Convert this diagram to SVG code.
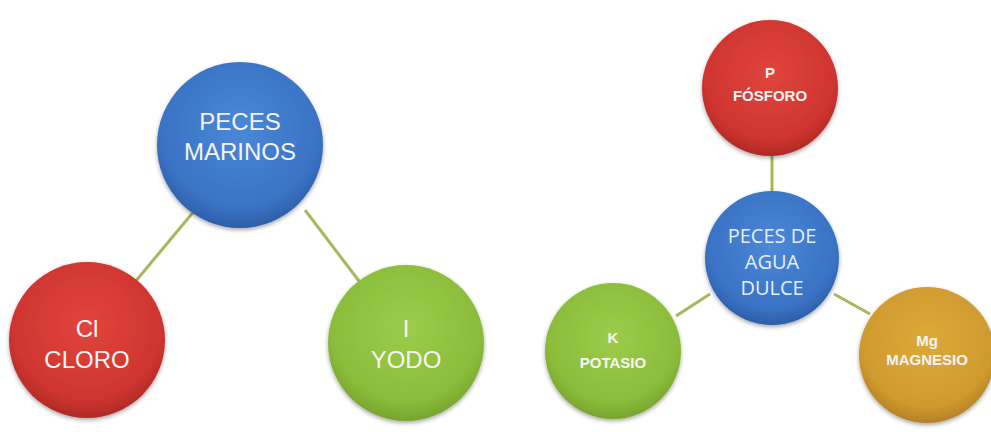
<svg xmlns="http://www.w3.org/2000/svg" width="991" height="432" viewBox="0 0 991 432">
<defs>
<radialGradient id="gBlue" cx="50%" cy="40%" r="60%"><stop offset="0" stop-color="#4a88d8"/><stop offset="0.8" stop-color="#3a72c4"/><stop offset="1" stop-color="#2d5ea8"/></radialGradient>
<radialGradient id="gRed" cx="50%" cy="40%" r="60%"><stop offset="0" stop-color="#e0453d"/><stop offset="0.8" stop-color="#cf3430"/><stop offset="1" stop-color="#b02a26"/></radialGradient>
<radialGradient id="gGreen" cx="50%" cy="40%" r="60%"><stop offset="0" stop-color="#9ccc4a"/><stop offset="0.8" stop-color="#8abc3a"/><stop offset="1" stop-color="#76a42e"/></radialGradient>
<radialGradient id="gOrange" cx="50%" cy="40%" r="60%"><stop offset="0" stop-color="#dcaa3a"/><stop offset="0.8" stop-color="#cf9a2e"/><stop offset="1" stop-color="#b38226"/></radialGradient>
<filter id="sh" x="-20%" y="-20%" width="140%" height="140%"><feGaussianBlur in="SourceAlpha" stdDeviation="2"/><feOffset dy="2"/><feComponentTransfer><feFuncA type="linear" slope="0.35"/></feComponentTransfer><feMerge><feMergeNode/><feMergeNode in="SourceGraphic"/></feMerge></filter>
</defs>
<style>
.c{filter:url(#sh)}
.t1{font-family:"Liberation Sans",Arial,sans-serif;font-size:24px;fill:#f4f4f4;text-anchor:middle}
.t2{font-family:"Liberation Sans",Arial,sans-serif;font-size:15px;font-weight:bold;fill:#f4f4f4;text-anchor:middle}
.t3{font-family:"Open Sans","Noto Sans",sans-serif;font-size:20px;fill:#e6eef8;text-anchor:middle}
.ln{stroke:#a6b85a;stroke-width:3;fill:none}
</style>
<rect width="991" height="432" fill="#ffffff"/>
<g id="connectors">
<line class="ln" x1="195" y1="210" x2="135" y2="282"/>
<line class="ln" x1="305" y1="210" x2="362" y2="285"/>
<line class="ln" x1="772" y1="155" x2="772" y2="193"/>
<line class="ln" x1="710" y1="294" x2="676" y2="316"/>
<line class="ln" x1="834" y1="294" x2="870" y2="314"/>
</g>
<g id="n-marinos"><circle class="c" cx="240" cy="145" r="83" fill="url(#gBlue)"/><text class="t1" x="240" y="130">PECES</text><text class="t1" x="240" y="160">MARINOS</text></g>
<g id="n-cloro"><circle class="c" cx="87" cy="340" r="78" fill="url(#gRed)"/><text class="t1" x="87" y="337">Cl</text><text class="t1" x="87" y="368">CLORO</text></g>
<g id="n-yodo"><circle class="c" cx="406" cy="343" r="78" fill="url(#gGreen)"/><text class="t1" x="406" y="337">I</text><text class="t1" x="406" y="368">YODO</text></g>
<g id="n-fosforo"><circle class="c" cx="770" cy="88" r="68" fill="url(#gRed)"/><text class="t2" x="770" y="78">P</text><text class="t2" x="770" y="101">FÓSFORO</text></g>
<g id="n-dulce"><circle class="c" cx="772" cy="258" r="67" fill="url(#gBlue)"/><text class="t3" x="772" y="243">PECES DE</text><text class="t3" x="772" y="269">AGUA</text><text class="t3" x="772" y="295">DULCE</text></g>
<g id="n-potasio"><circle class="c" cx="613" cy="351" r="68" fill="url(#gGreen)"/><text class="t2" x="613" y="343">K</text><text class="t2" x="613" y="368">POTASIO</text></g>
<g id="n-magnesio"><circle class="c" cx="927" cy="355" r="68" fill="url(#gOrange)"/><text class="t2" x="927" y="346">Mg</text><text class="t2" x="927" y="365">MAGNESIO</text></g>
</svg>
